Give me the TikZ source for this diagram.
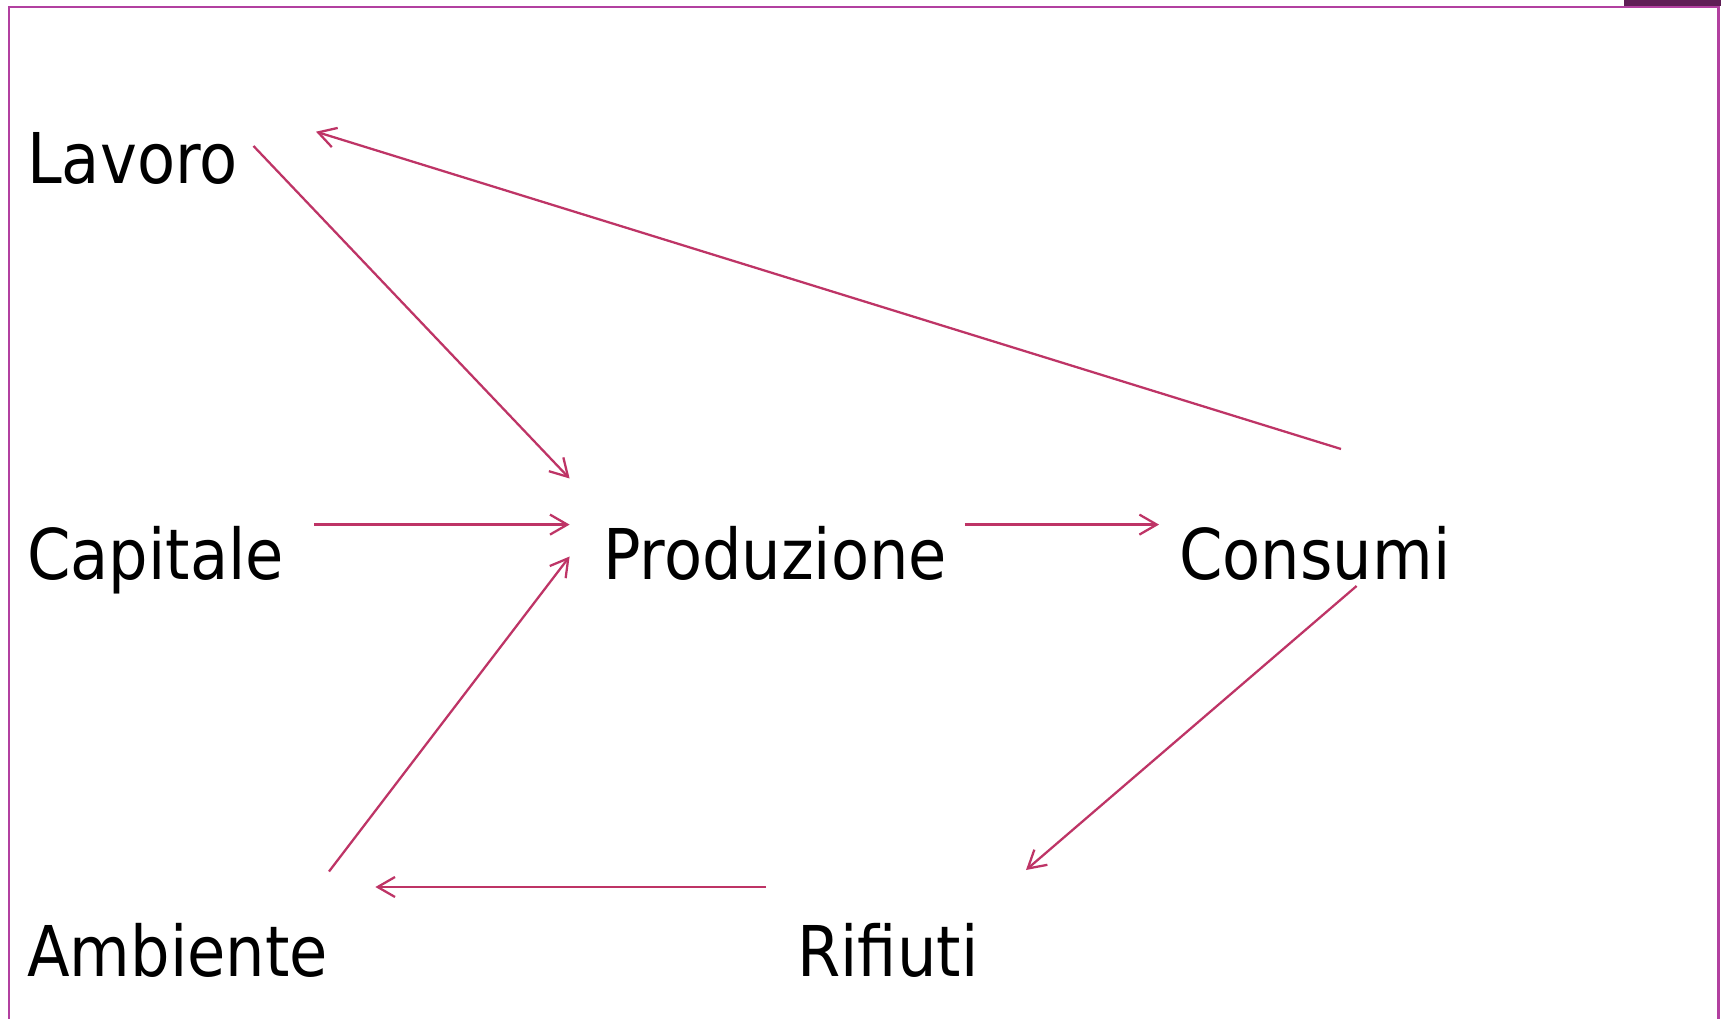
\documentclass[tikz,border=0pt]{standalone}
\usepackage{fontspec}
\setmainfont{DejaVu Sans}[FakeStretch=0.89]
\usetikzlibrary{arrows.meta}
\definecolor{arrowc}{RGB}{190,52,102}
\definecolor{framec}{RGB}{178,64,160}
\definecolor{barc}{RGB}{96,30,86}
\tikzset{
  lbl/.style={anchor=base west, inner sep=0pt, font=\fontsize{52.5}{60}\selectfont, text=black},
  conn/.style={draw=arrowc, line width=1.7pt, -{Straight Barb[length=13pt,width=15pt,line width=1.7pt]}},
  frame/.style={draw=framec, line width=2pt}
}
\begin{document}
\begin{tikzpicture}[x=0.75pt,y=-0.75pt]
\useasboundingbox (0,0) rectangle (1721,1019);
\fill[white] (0,0) rectangle (1721,1019);
% frame
\fill[barc] (1624,0) rectangle (1721,6);
\draw[frame] (9,1019) -- (9,7) -- (1718.5,7) -- (1718.5,1019);
% labels
\node[lbl] (lav) at (27,184) {Lavoro};
\node[lbl] (cap) at (27,579.5) {Capitale};
\node[lbl] (prod) at (603,579.5) {Produzione};
\node[lbl] (cons) at (1179,579.5) {Consumi};
\node[lbl] (amb) at (27,976) {Ambiente};
\node[lbl] (rif) at (797,976) {Rifiuti};
% connector end points
\coordinate (lavOut) at (253.5,146);
\coordinate (lavIn) at (316,131.7);
\coordinate (prodInA) at (569.6,478.5);
\coordinate (capOut) at (314,524.6);
\coordinate (prodInB) at (569.6,524.6);
\coordinate (ambOut) at (329,871.5);
\coordinate (prodInC) at (569.6,556.5);
\coordinate (prodOut) at (964.8,524.6);
\coordinate (consIn) at (1159,524.6);
\coordinate (consOutA) at (1341,449);
\coordinate (consOutB) at (1356.6,586);
\coordinate (rifIn) at (1026,870);
\coordinate (rifOut) at (766,887);
\coordinate (ambIn) at (375.4,887);
% connectors
\draw[conn] (lavOut) -- (prodInA);
\draw[conn] (consOutA) -- (lavIn);
\draw[conn] (capOut) -- (prodInB);
\draw[conn] (ambOut) -- (prodInC);
\draw[conn] (prodOut) -- (consIn);
\draw[conn] (consOutB) -- (rifIn);
\draw[conn] (rifOut) -- (ambIn);
\end{tikzpicture}
\end{document}
